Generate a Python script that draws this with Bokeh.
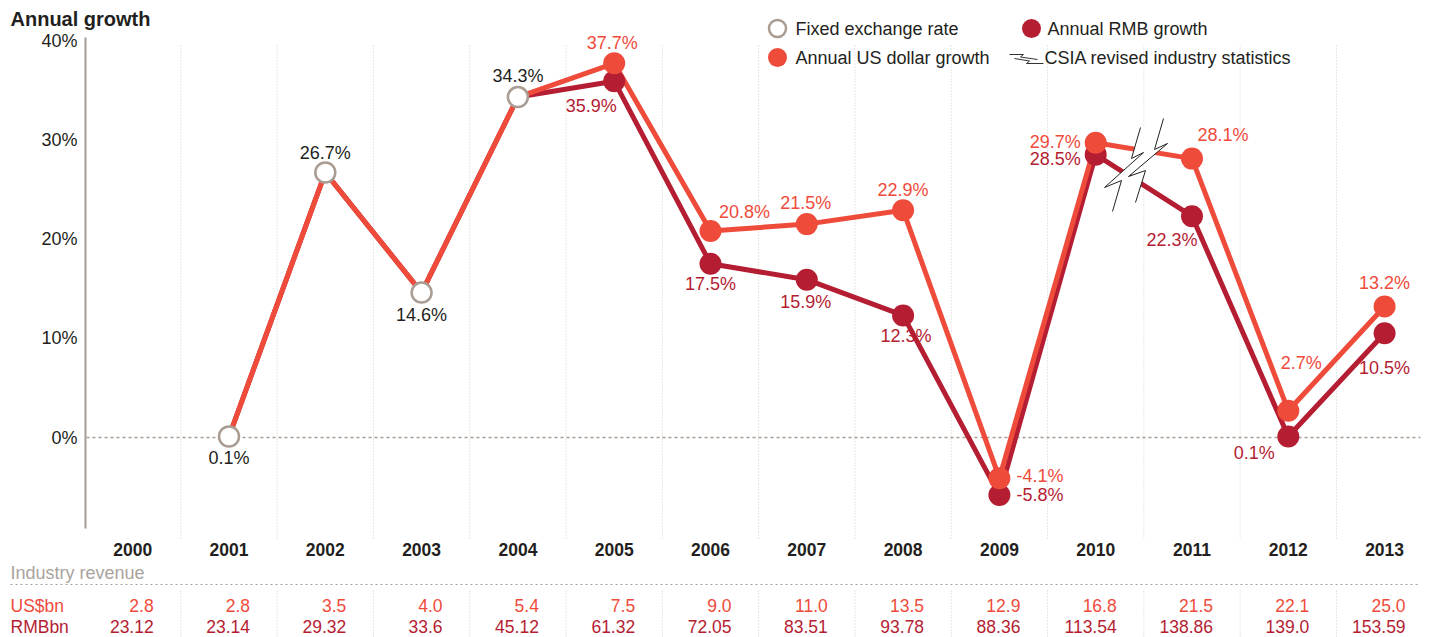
from bokeh.plotting import figure
from bokeh.models import Range1d, ColumnDataSource
from bokeh.embed import file_html
from bokeh.resources import INLINE
from bokeh.core.properties import value

# ---------------- data ----------------
years = list(range(2000, 2014))
growth_years = list(range(2001, 2014))
usd_growth = [0.1, 26.7, 14.6, 34.3, 37.7, 20.8, 21.5, 22.9, -4.1, 29.7, 28.1, 2.7, 13.2]
rmb_growth = [0.1, 26.7, 14.6, 34.3, 35.9, 17.5, 15.9, 12.3, -5.8, 28.5, 22.3, 0.1, 10.5]
fixed_years = [2001, 2002, 2003, 2004]
fixed_growth = [0.1, 26.7, 14.6, 34.3]
usd_revenue = ["2.8", "2.8", "3.5", "4.0", "5.4", "7.5", "9.0", "11.0", "13.5",
               "12.9", "16.8", "21.5", "22.1", "25.0"]
rmb_revenue = ["23.12", "23.14", "29.32", "33.6", "45.12", "61.32", "72.05", "83.51",
               "93.78", "88.36", "113.54", "138.86", "139.0", "153.59"]
y_ticks = [0, 10, 20, 30, 40]

# ---------------- styles ----------------
ORANGE = "#ef4b3b"
DARK = "#b51d32"
GREY_TXT = "#231f20"
AXIS_C = "#a89c93"
GRID_C = "#cfcfcf"
FONT = "Liberation Sans"
FS = "18px"
FS_TAB = "17.5px"

# pixel helpers (layout only)
X0, PX_YEAR = 132.2, 96.3
Y0, PX_PCT = 437.0, 9.925
W, H = 1433, 637


def dx(px):
    return 2000 + (px - X0) / PX_YEAR


def dy(py):
    return (Y0 - py) / PX_PCT


p = figure(width=W, height=H, x_range=Range1d(dx(0), dx(W)),
           y_range=Range1d(dy(H), dy(0)), output_backend="svg",
           toolbar_location=None, min_border=0, x_axis_location=None,
           y_axis_location=None)
p.grid.visible = False
p.outline_line_color = None
p.background_fill_color = "white"
p.border_fill_color = "white"

# vertical dotted separators
seps = [y + 0.5 for y in years[:-1]]
p.segment(x0=seps, x1=seps, y0=[dy(45)] * len(seps), y1=[dy(540)] * len(seps),
          line_color=GRID_C, line_width=1, line_dash="1 2")
p.segment(x0=seps, x1=seps, y0=[dy(590)] * len(seps), y1=[dy(H)] * len(seps),
          line_color=GRID_C, line_width=1, line_dash="1 2")

# zero line
p.segment(x0=[dx(86)], x1=[dx(1420)], y0=[0], y1=[0], line_color=AXIS_C,
          line_width=1.3, line_dash="3 3")

# y axis line and ticks
p.segment(x0=[dx(85)], x1=[dx(85)], y0=[dy(528)], y1=[dy(37)], line_color=AXIS_C, line_width=2)
p.text(x=[dx(77)] * len(y_ticks), y=y_ticks, text=[f"{t}%" for t in y_ticks],
       text_align="right", text_baseline="middle", text_font=value(FONT),
       text_font_size=FS, text_color=GREY_TXT)

# title
p.text(x=[dx(10)], y=[dy(18)], text=["Annual growth"], text_align="left",
       text_baseline="middle", text_font=value(FONT), text_font_size="20px",
       text_font_style="bold", text_color=GREY_TXT)

# lines
p.line(growth_years, rmb_growth, line_color=DARK, line_width=5, line_join="round")
p.line(growth_years, usd_growth, line_color=ORANGE, line_width=5, line_join="round")

# break symbol between 2010 and 2011
boltL = [(1140, 127), (1131, 158), (1143, 152), (1104, 187), (1121, 180), (1112, 211)]
boltR = [(1163, 118), (1154, 149), (1167, 143), (1128, 176), (1145, 170), (1135, 202)]
poly = boltL + boltR[::-1]
p.patch([dx(a) for a, b in poly], [dy(b) for a, b in poly], fill_color="white", line_color=None)
p.multi_line([[dx(a) for a, b in boltL], [dx(a) for a, b in boltR]],
             [[dy(b) for a, b in boltL], [dy(b) for a, b in boltR]],
             line_color="#222222", line_width=1)

# markers
p.scatter(growth_years[4:], rmb_growth[4:], size=22, fill_color=DARK, line_color=None)
p.scatter(growth_years[4:], usd_growth[4:], size=22, fill_color=ORANGE, line_color=None)
p.scatter(fixed_years, fixed_growth, size=20, fill_color="white", line_color=AXIS_C, line_width=2.5)

# point labels
fixed_place = {2001: (0, 21), 2002: (0, -20), 2003: (0, 22), 2004: (0, -21)}
usd_place = {2005: (-2, -20, "center"), 2006: (34, -19, "center"), 2007: (-1, -21, "center"),
             2008: (0, -20, "center"), 2009: (17, -2, "left"), 2010: (-15, -1, "right"),
             2011: (31, -24, "center"), 2012: (13, -48, "center"), 2013: (0, -23, "center")}
rmb_place = {2005: (-23, 25, "center"), 2006: (0, 20, "center"), 2007: (-1, 22, "center"),
             2008: (3, 21, "center"), 2009: (17, 0, "left"), 2010: (-15, 4, "right"),
             2011: (-20, 24, "center"), 2012: (-34, 16, "center"), 2013: (0, 35, "center")}


def add_labels(xs, vs, place, color):
    xo, yo, al, xx, yy, tt = [], [], [], [], [], []
    for x, v in zip(xs, vs):
        if x not in place:
            continue
        pl = place[x]
        xx.append(x)
        yy.append(v)
        tt.append(f"{v:.1f}%")
        xo.append(pl[0])
        yo.append(pl[1])
        al.append(pl[2] if len(pl) > 2 else "center")
    src = ColumnDataSource(dict(x=xx, y=yy, t=tt, xo=xo, yo=yo, al=al))
    p.text(x="x", y="y", text="t", x_offset="xo", y_offset="yo", text_align="al",
           text_baseline="middle", text_font=value(FONT), text_font_size=FS,
           text_color=color, source=src)


add_labels(fixed_years, fixed_growth, fixed_place, GREY_TXT)
add_labels(growth_years, usd_growth, usd_place, ORANGE)
add_labels(growth_years, rmb_growth, rmb_place, DARK)

# legend (manual)
p.scatter([dx(777)], [dy(28)], size=17, fill_color="white", line_color=AXIS_C, line_width=2.5)
p.scatter([dx(1031)], [dy(28)], size=19, fill_color=DARK, line_color=None)
p.scatter([dx(777)], [dy(57)], size=19, fill_color=ORANGE, line_color=None)
miniA = [(1009, 54), (1023, 54), (1020, 56.5), (1037, 59)]
miniB = [(1014, 58), (1029, 60.5), (1026, 63), (1043, 63)]
p.multi_line([[dx(a) for a, b in miniA], [dx(a) for a, b in miniB]],
             [[dy(b) for a, b in miniA], [dy(b) for a, b in miniB]],
             line_color="#333333", line_width=1)
p.text(x=[dx(795), dx(1047), dx(795), dx(1044)], y=[dy(28), dy(28), dy(57), dy(57)],
       text=["Fixed exchange rate", "Annual RMB growth", "Annual US dollar growth",
             "CSIA revised industry statistics"],
       text_align="left", text_baseline="middle", text_font=value(FONT),
       text_font_size=FS, text_color=GREY_TXT)

# table below the chart
p.text(x=years, y=[dy(549)] * len(years), text=[str(y) for y in years], text_align="center",
       text_baseline="middle", text_font=value(FONT), text_font_size=FS_TAB,
       text_font_style="bold", text_color=GREY_TXT)
p.text(x=[dx(10)], y=[dy(572)], text=["Industry revenue"], text_align="left",
       text_baseline="middle", text_font=value(FONT), text_font_size=FS, text_color="#aaa39d")
p.segment(x0=[dx(10)], x1=[dx(1420)], y0=[dy(584)], y1=[dy(584)], line_color=AXIS_C,
          line_width=1.2, line_dash="2 3")
num_x = [y + 21 / PX_YEAR for y in years]
p.text(x=[dx(10)], y=[dy(605)], text=["US$bn"], text_align="left", text_baseline="middle",
       text_font=value(FONT), text_font_size=FS_TAB, text_color=ORANGE)
p.text(x=num_x, y=[dy(605)] * len(years), text=usd_revenue, text_align="right",
       text_baseline="middle", text_font=value(FONT), text_font_size=FS_TAB, text_color=ORANGE)
p.text(x=[dx(10)], y=[dy(626)], text=["RMBbn"], text_align="left", text_baseline="middle",
       text_font=value(FONT), text_font_size=FS_TAB, text_color=DARK)
p.text(x=num_x, y=[dy(626)] * len(years), text=rmb_revenue, text_align="right",
       text_baseline="middle", text_font=value(FONT), text_font_size=FS_TAB, text_color=DARK)

open("out.html", "w").write(file_html(p, INLINE))
